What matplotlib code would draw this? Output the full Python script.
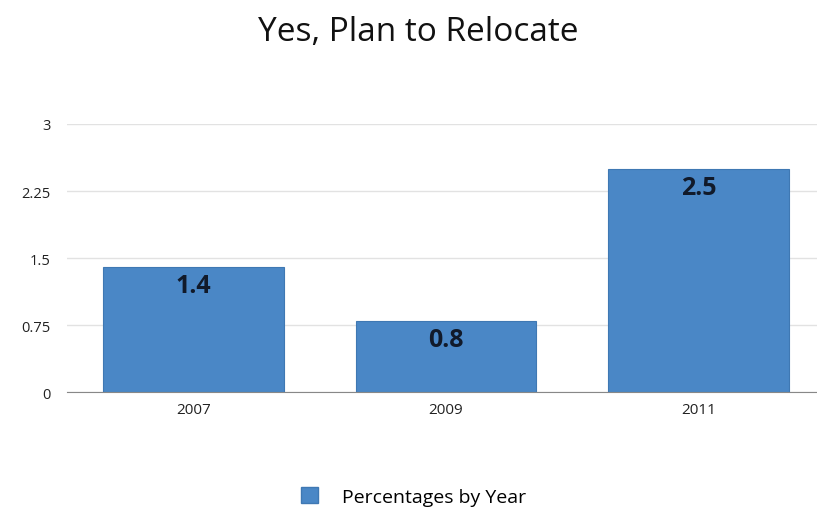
import matplotlib.pyplot as plt
from matplotlib.patches import Patch

years = ['2007', '2009', '2011']
values = [1.4, 0.8, 2.5]
yticks = [0, 0.75, 1.5, 2.25, 3]
ytick_labels = ['0', '0.75', '1.5', '2.25', '3']

plt.rcParams['font.family'] = ['Open Sans', 'DejaVu Sans']

bar_color = '#4a87c6'

fig = plt.figure(figsize=(8.17, 5.10), dpi=100)
ax = fig.add_axes([0.082, 0.229, 0.918, 0.526])

x = range(len(years))
ax.bar(x, values, width=0.715, color=bar_color, edgecolor='#3f78b3', linewidth=0.8, zorder=3)

for i, v in enumerate(values):
    ax.text(i, v - 0.07, f'{v}', ha='center', va='top', fontsize=18,
            fontweight='bold', color='#111a2a', zorder=4)

ax.set_xlim(-0.5, 2.47)
ax.set_ylim(0, 3)
ax.set_xticks(list(x))
ax.set_xticklabels(years, fontsize=11, color='#222222')
ax.set_yticks(yticks)
ax.set_yticklabels(ytick_labels, fontsize=10.5, color='#222222')
ax.tick_params(length=0, pad=12)
ax.tick_params(axis='x', pad=7)

ax.grid(axis='y', color='#e2e2e2', linewidth=1, zorder=0)
for s in ['top', 'right', 'left']:
    ax.spines[s].set_visible(False)
ax.spines['bottom'].set_color('#888888')
ax.spines['bottom'].set_zorder(5)

fig.text(0.512, 0.937, 'Yes, Plan to Relocate', ha='center', va='center',
         fontsize=24, color='#111111')

handle = Patch(facecolor=bar_color, edgecolor='#3f78b3')
fig.legend([handle], ['Percentages by Year'], loc='center', bbox_to_anchor=(0.506, 0.025),
           frameon=False, fontsize=14, handlelength=0.9, handleheight=0.9, handletextpad=1.2)

fig.savefig('out.png', dpi=100)
